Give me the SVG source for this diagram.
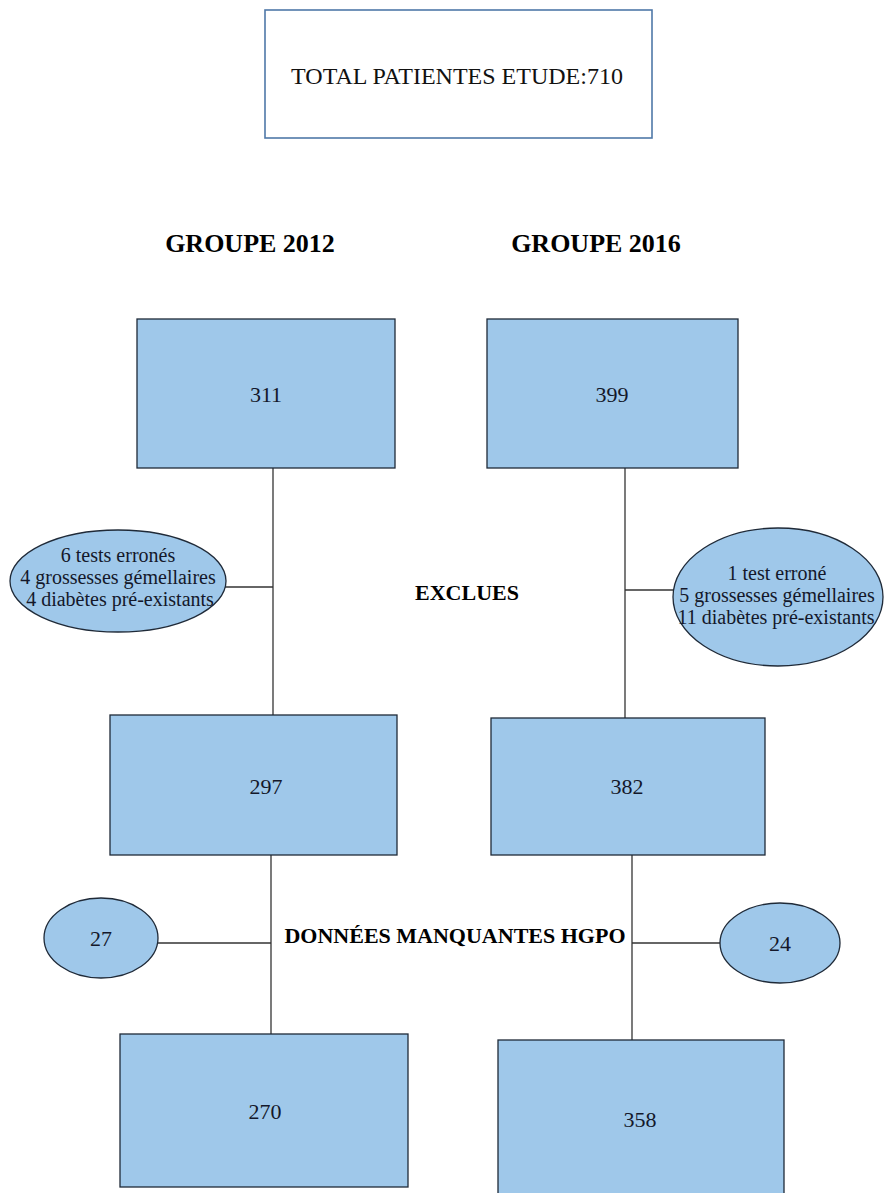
<svg xmlns="http://www.w3.org/2000/svg" width="885" height="1193" viewBox="0 0 885 1193">
<style>
.node{fill:#9fc8ea;stroke:#1f2a38;stroke-width:1.3}
.top{fill:#ffffff;stroke:#4f78a8;stroke-width:1.6}
.conn{stroke:#333333;stroke-width:1.3;fill:none}
text{font-family:"Liberation Serif","Times New Roman",serif;fill:#14182a;text-anchor:middle}
.num{font-size:22px}
.small{font-size:20px}
.head{font-size:26px;font-weight:bold;fill:#000}
.lbl{font-size:22px;font-weight:bold;fill:#000}
</style>
<rect width="885" height="1193" fill="#ffffff"/>
<g id="connectors">
<line class="conn" x1="273" y1="468" x2="273" y2="715"/>
<line class="conn" x1="273" y1="587" x2="220" y2="587"/>
<line class="conn" x1="625" y1="468" x2="625" y2="718"/>
<line class="conn" x1="625" y1="590" x2="674" y2="590"/>
<line class="conn" x1="271" y1="855" x2="271" y2="1034"/>
<line class="conn" x1="271" y1="943" x2="158" y2="943"/>
<line class="conn" x1="632" y1="855" x2="632" y2="1041"/>
<line class="conn" x1="632" y1="943" x2="720" y2="943"/>
</g>
<g id="total">
<rect class="top" x="265" y="10" width="387" height="128"/>
<text x="457" y="84" style="font-size:24px;fill:#111">TOTAL PATIENTES ETUDE:710</text>
</g>
<g id="groupe2012"><text class="head" x="250" y="252">GROUPE 2012</text></g>
<g id="groupe2016"><text class="head" x="596" y="252">GROUPE 2016</text></g>
<g id="n311">
<rect class="node" x="137" y="319" width="258" height="149"/>
<text class="num" x="266" y="402">311</text>
</g>
<g id="n399">
<rect class="node" x="487" y="319" width="251" height="149"/>
<text class="num" x="612" y="402">399</text>
</g>
<g id="excl2012">
<ellipse class="node" cx="118" cy="581" rx="108" ry="51"/>
<text class="small" x="118" y="562">6 tests erronés</text>
<text class="small" x="118" y="584">4 grossesses gémellaires</text>
<text class="small" x="120" y="606">4 diabètes pré-existants</text>
</g>
<g id="exclues"><text class="lbl" x="467" y="600">EXCLUES</text></g>
<g id="excl2016">
<ellipse class="node" cx="778" cy="597" rx="105" ry="69"/>
<text class="small" x="777" y="580">1 test erroné</text>
<text class="small" x="777" y="602">5 grossesses gémellaires</text>
<text class="small" x="776" y="624">11 diabètes pré-existants</text>
</g>
<g id="n297">
<rect class="node" x="110" y="715" width="287" height="140"/>
<text class="num" x="266" y="794">297</text>
</g>
<g id="n382">
<rect class="node" x="491" y="718" width="274" height="137"/>
<text class="num" x="627" y="794">382</text>
</g>
<g id="m27">
<ellipse class="node" cx="101" cy="938" rx="57" ry="40"/>
<text class="num" x="101" y="946">27</text>
</g>
<g id="manquantes"><text class="lbl" x="455" y="943">DONNÉES MANQUANTES HGPO</text></g>
<g id="m24">
<ellipse class="node" cx="780" cy="943" rx="60" ry="40"/>
<text class="num" x="780" y="951">24</text>
</g>
<g id="n270">
<rect class="node" x="120" y="1034" width="288" height="153"/>
<text class="num" x="265" y="1119">270</text>
</g>
<g id="n358">
<rect class="node" x="498" y="1040" width="286" height="160"/>
<text class="num" x="640" y="1127">358</text>
</g>
</svg>
